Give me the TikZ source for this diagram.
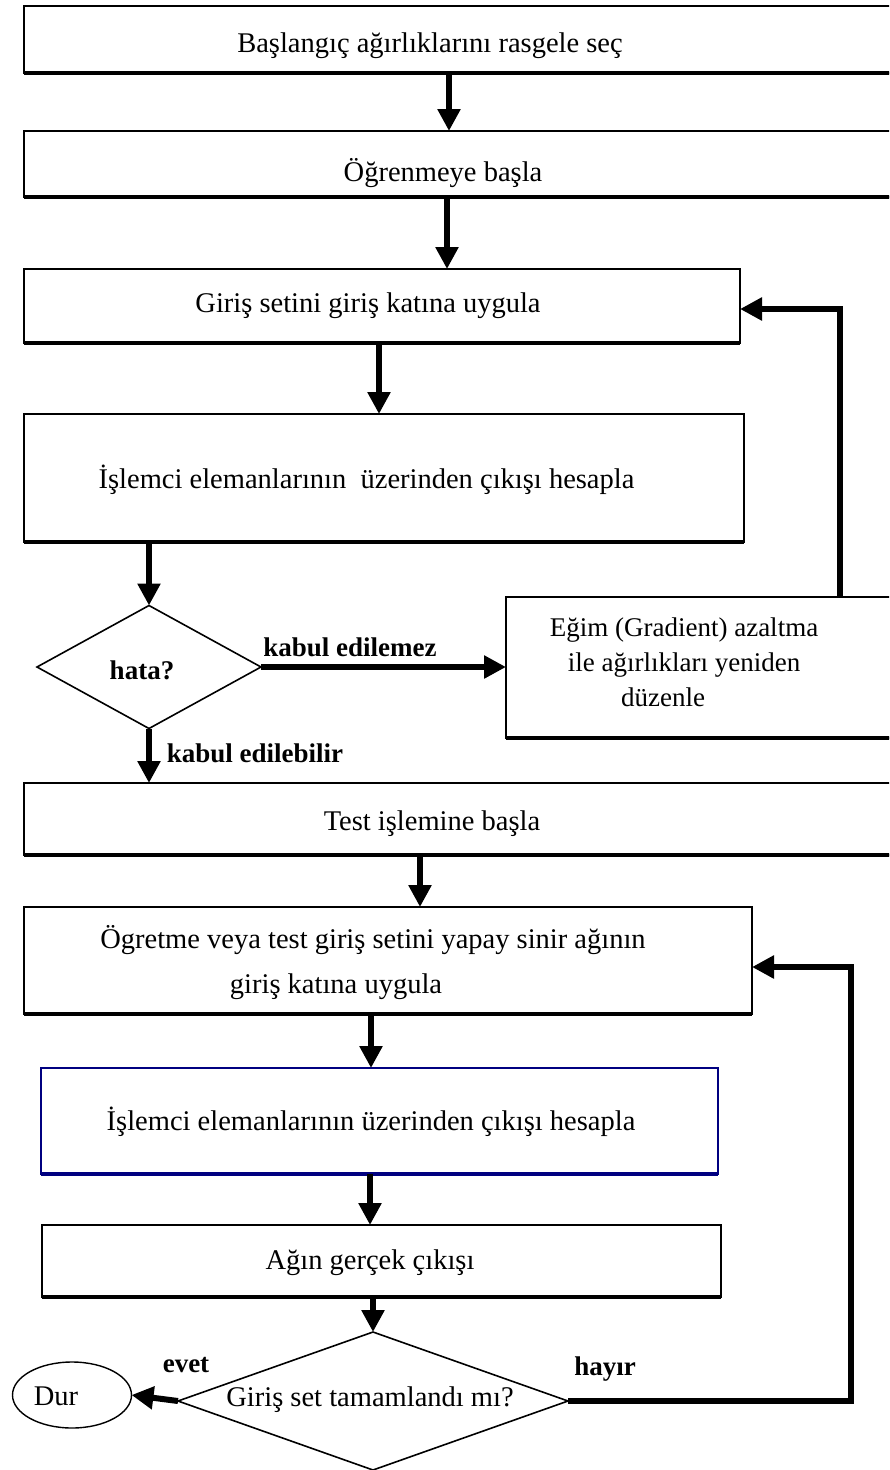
\documentclass[tikz,border=0pt]{standalone}
\usepackage{fontspec}
\setmainfont{Liberation Serif}
\usetikzlibrary{arrows.meta,shapes.geometric}
\definecolor{navy}{RGB}{0,0,128}
\begin{document}
\begin{tikzpicture}[x=1pt,y=-1pt,
  box/.style={draw,line width=2pt,inner sep=0pt,outer sep=0pt},
  txt/.style={inner sep=0pt,font=\fontsize{28.5}{35}\selectfont,align=center},
  lbl/.style={inner sep=0pt,font=\fontsize{27}{35}\selectfont\bfseries},
  dec/.style={draw,diamond,line width=1.6pt,inner sep=0pt,outer sep=0pt},
  arr/.style={line width=6pt,-{Triangle[width=22pt,length=22pt]}},
]
\useasboundingbox (0,0) rectangle (889,1470);
\begin{scope}
\clip (0,0) rectangle (889,1470);
% boxes
\node[box,minimum width=871pt,minimum height=67pt] (b1) at (459.5,39.5) {};
\node[txt] (t1) at (430,45.5) {Başlangıç ağırlıklarını rasgele seç};
\node[box,minimum width=871pt,minimum height=66pt] (b2) at (459.5,164) {};
\node[txt] (t2) at (443,173) {Öğrenmeye başla};
\node[box,minimum width=716pt,minimum height=74pt] (b3) at (382,306) {};
\node[txt] (t3) at (368,306) {Giriş setini giriş katına uygula};
\node[box,minimum width=720pt,minimum height=128pt] (b4) at (384,478) {};
\node[txt] (t4) at (366.5,480) {İşlemci elemanlarının\ \ üzerinden çıkışı hesapla};
\node[dec,minimum width=224pt,minimum height=123pt] (d1) at (149,667) {};
\node[lbl] (t5) at (142,670) {hata?};
\node[box,minimum width=389pt,minimum height=141pt] (b5) at (700.5,667.5) {};
\node[txt,font=\fontsize{27}{35}\selectfont] (t6) at (684,662) {Eğim (Gradient) azaltma\\ile ağırlıkları yeniden\\düzenle\hspace*{42pt}};
\node[box,minimum width=871pt,minimum height=72pt] (b6) at (459.5,819) {};
\node[txt] (t7) at (432,824) {Test işlemine başla};
\node[box,minimum width=728pt,minimum height=107pt] (b7) at (388,960.5) {};
\node[txt] (t8a) at (373,940) {Ögretme veya test giriş setini yapay sinir ağının};
\node[txt] (t8b) at (336,987) {giriş katına uygula};
\node[box,draw=navy,line width=1.6pt,minimum width=677pt,minimum height=106pt] (b8) at (379.5,1121) {};
\node[txt] (t9) at (371,1122) {İşlemci elemanlarının üzerinden çıkışı hesapla};
\node[box,minimum width=679pt,minimum height=72pt] (b9) at (381.5,1261) {};
\node[txt] (t10) at (370,1263) {Ağın gerçek çıkışı};
\node[dec,minimum width=390pt,minimum height=138pt] (d2) at (373,1401) {};
\node[txt] (t11) at (370,1400) {Giriş set tamamlandı mı?};
\node[draw,ellipse,line width=1.4pt,minimum width=119pt,minimum height=66pt,inner sep=0pt,outer sep=0pt] (dur) at (72,1395) {};
\node[txt] (t12) at (56,1396) {Dur};
% thicker bottom edges
\foreach \n in {b1,b2,b3,b4,b5,b6,b7,b9}
  \draw[line width=4pt] (\n.south west) -- (\n.south east);
\draw[navy,line width=4pt] (b8.south west) -- (b8.south east);
% helper coordinates for connector x positions
\coordinate (x1) at (449,0);
\coordinate (x2) at (447,0);
\coordinate (x3) at (379,0);
\coordinate (x7) at (420,0);
\coordinate (x8) at (371,0);
\coordinate (x9) at (370,0);
\coordinate (xl1) at (840,309);
\coordinate (xl2) at (851,967);
% connectors
\draw[arr] (x1 |- b1.south) -- (x1 |- b2.north);
\draw[arr] (x2 |- b2.south) -- (x2 |- b3.north);
\draw[arr] (x3 |- b3.south) -- (x3 |- b4.north);
\draw[arr] (d1.north |- b4.south) -- (d1.north);
\draw[arr] (d1.east) -- (d1.east -| b5.west);
\draw[arr] (xl1 |- b5.north) -- (xl1) -- (xl1 -| b3.east);
\draw[arr] (d1.south) -- (d1.south |- b6.north);
\draw[arr] (x7 |- b6.south) -- (x7 |- b7.north);
\draw[arr] (d2.east) -- (xl2 |- d2.east) -- (xl2) -- (xl2 -| b7.east);
\draw[arr] (x8 |- b7.south) -- (x8 |- b8.north);
\draw[arr] (x9 |- b8.south) -- (x9 |- b9.north);
\draw[arr] (d2.north |- b9.south) -- (d2.north);
\draw[arr] (d2.west) -- (dur.east);
% labels
\node[lbl] (l1) at (350,647) {kabul edilemez};
\node[lbl] (l2) at (255,753) {kabul edilebilir};
\node[lbl] (l3) at (186,1365) {evet};
\node[lbl] (l4) at (605,1369) {hayır};
\end{scope}
\end{tikzpicture}
\end{document}
